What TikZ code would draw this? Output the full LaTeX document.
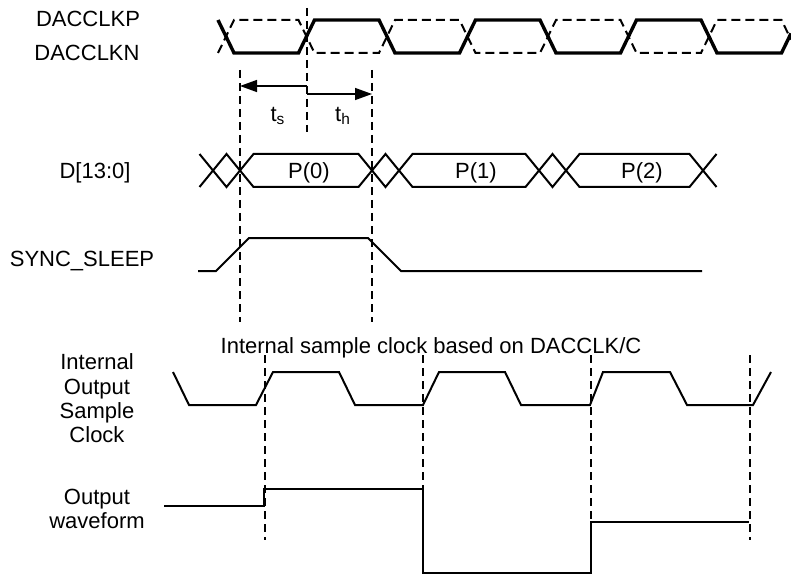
\documentclass[tikz,border=0pt]{standalone}
\usepackage{fontspec}
\setmainfont{Liberation Sans}
\usetikzlibrary{arrows.meta, positioning}

\begin{document}
\begin{tikzpicture}[
    x=0.5pt, y=-0.5pt,
    >={Triangle[length=8.5pt, width=6pt]},
    sig/.style={line width=1pt, line join=miter},
    clkp/.style={line width=1.7pt, line join=miter},
    clkn/.style={line width=1pt, dash pattern=on 4.5pt off 2.5pt},
    guide/.style={line width=1pt, dash pattern=on 4pt off 2.5pt},
    dim/.style={->, line width=0.7pt},
    lbl/.style={font=\fontsize{11}{12.2}\selectfont, inner sep=0pt}
  ]
  \useasboundingbox (0,0) rectangle (791,577);

  % Signal names
  \node[lbl, anchor=base] (clkp) at (88,27) {DACCLKP};
  \node[lbl, anchor=base] (clkn) at (87,61) {DACCLKN};
  \node[lbl, anchor=base] (data) at (95,178.5) {D[13:0]};
  \node[lbl, anchor=base] (sync) at (82,266) {SYNC\_SLEEP};
  \node[lbl, align=center] (isc) at (97,398.5) {Internal\\Output\\Sample\\Clock};
  \node[lbl, align=center] (outw) at (97,509) {Output\\waveform};
  \node[lbl, anchor=base] (note) at (431,353)
    {Internal sample clock based on DACCLK/C};

  % DACCLKP / DACCLKN
  \draw[clkp] (218,20)
    foreach \c in {226,387,548} {
      -- (\c+8,53) -- (\c+72.5,53) -- (\c+88.5,20) -- (\c+153,20) }
    -- (717,53) -- (781.5,53) -- (791,33.4);
  \draw[clkn] (218,53)
    foreach \c in {226,387,548} {
      -- (\c+8,20) -- (\c+72.5,20) -- (\c+88.5,53) -- (\c+153,53) }
    -- (717,20) -- (781.5,20) -- (791,39.6);

  % D[13:0]
  \draw[sig] (199.5,154) -- (226.5,187) -- (253.5,154) -- (358.5,154)
    -- (385.5,187) -- (412.5,154) -- (525.5,154) -- (552.5,187)
    -- (579.5,154) -- (689.5,154) -- (716.5,187);
  \draw[sig] (199.5,187) -- (226.5,154) -- (253.5,187) -- (358.5,187)
    -- (385.5,154) -- (412.5,187) -- (525.5,187) -- (552.5,154)
    -- (579.5,187) -- (689.5,187) -- (716.5,154);
  \foreach \n/\x in {0/309, 1/476, 2/642}
    \node[lbl, anchor=base] (p\n) at (\x,178.5) {P(\n)};

  % SYNC_SLEEP
  \draw[sig] (198,271) -- (216,271) -- (249,238) -- (368,238) -- (401,271)
    -- (702,271);

  % Setup and hold
  \coordinate (edge) at (307,8);
  \coordinate (su) at (240,70);
  \coordinate (hd) at (372,70);
  \draw[guide] (edge) -- ++(0,124);
  \draw[guide] (su) -- ++(0,252);
  \draw[guide] (hd) -- ++(0,252);
  \coordinate (ts0) at (307,86);
  \coordinate (ts1) at (240,86);
  \coordinate (th0) at (307,94);
  \coordinate (th1) at (372,94);
  \draw[dim] (ts0) -- (ts1);
  \draw[dim] (th0) -- (th1);
  \node[lbl] (ts) at (278,116) {t\textsubscript{s}};
  \node[lbl] (th) at (343,116) {t\textsubscript{h}};

  % Internal output sample clock
  \draw[sig] (173,372) -- (189,405) -- (256,405) -- (273,372) -- (339,372)
    -- (355,405) -- (423,405) -- (439,372) -- (505,372) -- (521,405)
    -- (590,405) -- (603,372) -- (670,372) -- (687,405) -- (753,405)
    -- (771,372);
  \foreach \x in {265,423,591,750}
    \draw[guide] (\x,355) -- (\x,540);

  % Output waveform
  \draw[sig] (164,506) -- (264,506) -- (264,489) -- (423,489) -- (423,573)
    -- (591,573) -- (591,522) -- (749,522);
\end{tikzpicture}
\end{document}
